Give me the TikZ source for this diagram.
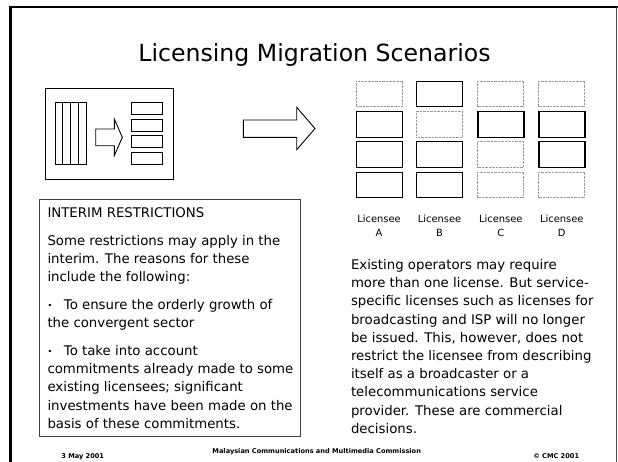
\documentclass[tikz,border=0pt]{standalone}
\usepackage{fontspec}
\setmainfont{DejaVu Sans}
\newcommand{\smallbul}{\makebox[16.4pt][l]{\raisebox{1.3pt}{\fontsize{8}{8}\selectfont •}}}
\begin{document}
\begin{tikzpicture}[x=1pt,y=-1pt,
  solidbox/.style={draw=black, line width=1.2pt, minimum width=46pt, minimum height=25.5pt, inner sep=0pt, anchor=north west},
  dotbox/.style={draw=black!40, line width=0.7pt, dash pattern=on 0.7pt off 0.7pt, minimum width=46pt, minimum height=25.5pt, inner sep=0pt, anchor=north west},
  ln/.style={draw=black, line width=0.9pt},
  bodytxt/.style={font=\fontsize{13.3}{18.2}\selectfont, inner sep=0pt, anchor=base west},
  lic/.style={font=\fontsize{9.9}{12}\selectfont, inner sep=0pt, anchor=base},
  foot/.style={font=\fontsize{6.6}{8}\selectfont\bfseries, inner sep=0pt, anchor=base}
]
\useasboundingbox (0,0) rectangle (618,461);
\fill[white] (0,0) rectangle (618,461);
% slide border
\draw[line width=2.2pt] (10.5,462) -- (10.5,7) -- (618,7);
\draw[line width=0.6pt, black!70] (616.5,7) -- (616.5,462);
% title
\node[font=\fontsize{23.6}{28}\selectfont, anchor=base, inner sep=0pt] (title) at (314.5,61.7) {Licensing Migration Scenarios};
% left picture
\node[ln, minimum width=127.3pt, minimum height=91.6pt, inner sep=0pt, anchor=north west] (leftbox) at (45.3,87.7) {};
\foreach \i in {0,1,2,3}
  \draw[ln] (55+7.75*\i,102.3) rectangle +(7.75,61.7);
\draw[ln] (95.7,129) -- (114.3,129) -- (114.3,119) -- (122.3,137.3) -- (114.3,155.7) -- (114.3,145.7) -- (95.7,145.7) -- cycle;
\foreach \yy in {102.3,119,135.7,152.3}
  \draw[ln] (131,\yy) rectangle +(31.7,12);
% big arrow
\draw[ln] (243.3,120) -- (296.7,120) -- (296.7,107.3) -- (315,128.5) -- (296.7,149.7) -- (296.7,137.3) -- (243.3,137.3) -- cycle;
% grid of licences
\foreach \c/\x/\pa/\pb/\pc/\pd in {A/355.5/dotbox/solidbox/solidbox/solidbox, B/416/solidbox/dotbox/solidbox/solidbox, C/477.3/dotbox/solidbox/dotbox/dotbox, D/538.3/dotbox/solidbox/solidbox/dotbox} {
  \node[\pa] (\c1) at (\x,80.7) {};
  \node[\pb] (\c2) at (\x,111) {};
  \node[\pc] (\c3) at (\x,141.2) {};
  \node[\pd] (\c4) at (\x,171.7) {};
  \node[lic] (lab\c) at (\x+23.5,222.5) {Licensee};
  \node[lic] (let\c) at (\x+23.5,236.7) {\c};
}
% interim box
\node[draw=black!75, line width=0.9pt, minimum width=261pt, minimum height=236.4pt, inner sep=0pt, anchor=north west] (interim) at (39.4,199.3) {};
\node[bodytxt] (i0) at (47.3,217.3) {INTERIM RESTRICTIONS};
\foreach \t/\yy [count=\k] in {
  {Some restrictions may apply in the}/245.3,
  {interim. The reasons for these}/263.5,
  {include the following:}/281.7,
  {\smallbul To ensure the orderly growth of}/309.7,
  {the convergent sector}/327.9,
  {\smallbul To take into account}/355.5,
  {commitments already made to some}/373.7,
  {existing licensees; significant}/391.9,
  {investments have been made on the}/410.1,
  {basis of these commitments.}/428.3}
  \node[bodytxt] (i\k) at (47.3,\yy) {\t};
% right paragraph
\foreach \t [count=\k] in {
  {Existing operators may require},
  {more than one license. But service-},
  {specific licenses such as licenses for},
  {broadcasting and ISP will no longer},
  {be issued. This, however, does not},
  {restrict the licensee from describing},
  {itself as a broadcaster or a},
  {telecommunications service},
  {provider. These are commercial},
  {decisions.}}
  \node[bodytxt] (r\k) at (350.8,269.5+18.2*\k-18.2) {\t};
% footer
\node[foot] (date) at (82.7,458.5) {3 May 2001};
\node[foot] (org) at (316.7,453.5) {Malaysian Communications and Multimedia Commission};
\node[foot] (copy) at (556.2,458.5) {© CMC 2001};
\end{tikzpicture}
\end{document}
